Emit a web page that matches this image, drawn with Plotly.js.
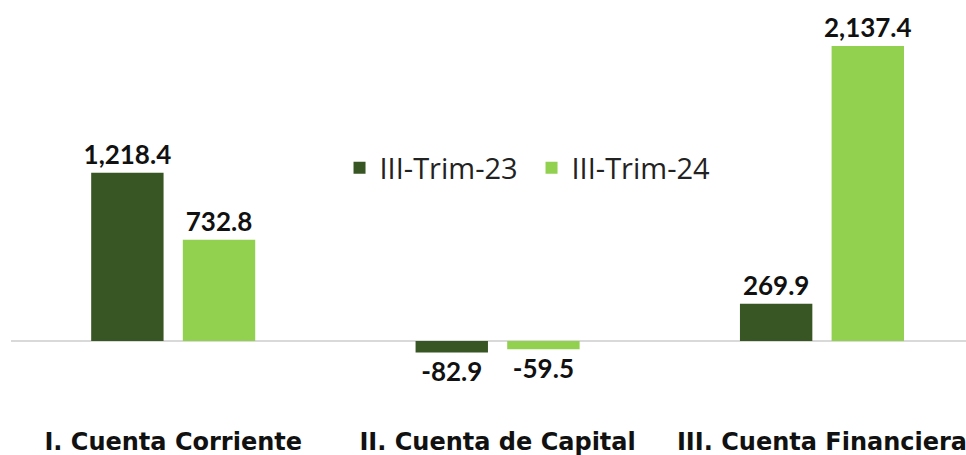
<!DOCTYPE html>
<html>
<head>
<meta charset="utf-8">
<script src="https://cdn.plot.ly/plotly-3.0.1.min.js"></script>
<style>html,body{margin:0;padding:0;background:#fff;}#chart{width:966px;height:455px;}</style>
</head>
<body>
<div id="chart"></div>
<script>
const categories = ["I. Cuenta Corriente", "II. Cuenta de Capital", "III. Cuenta Financiera"];
const seriesNames = ["III-Trim-23", "III-Trim-24"];
const values23 = [1218.4, -82.9, 269.9];
const values24 = [732.8, -59.5, 2137.4];
const colors = ["#375623", "#92D050"];

function fmt(v) {
  return v.toLocaleString("en-US", {minimumFractionDigits: 1, maximumFractionDigits: 1});
}

const labelFont = {family: "Lato, 'DejaVu Sans', sans-serif", size: 26, color: "#111111", weight: 700};

const traces = [values23, values24].map((vals, i) => ({
  type: "bar",
  name: seriesNames[i],
  x: categories,
  y: vals,
  marker: {color: colors[i]},
  text: vals.map(fmt),
  textposition: "outside",
  constraintext: "none",
  cliponaxis: false,
  textfont: labelFont,
  hoverinfo: "none"
}));

const layout = {
  width: 966,
  height: 455,
  margin: {l: 11, r: 0, t: 0, b: 30},
  paper_bgcolor: "#ffffff",
  plot_bgcolor: "#ffffff",
  barmode: "group",
  bargap: 0.435,
  bargroupgap: 0.21,
  showlegend: true,
  legend: {
    orientation: "h",
    x: 0.344, xanchor: "left",
    y: 0.605, yanchor: "middle",
    entrywidth: 147,
    font: {family: "'Open Sans', 'Noto Sans', sans-serif", size: 29, color: "#222222"},
    bgcolor: "rgba(0,0,0,0)"
  },
  xaxis: {
    range: [-0.5, 2.444],
    showgrid: false,
    showline: false,
    ticks: "",
    tickfont: {family: "'DejaVu Sans', sans-serif", size: 24, color: "#111111", weight: 700},
    fixedrange: true
  },
  yaxis: {
    range: [-609, 2471],
    showgrid: false,
    showticklabels: false,
    zeroline: true,
    zerolinecolor: "#d9d9d9",
    zerolinewidth: 1.5,
    fixedrange: true
  }
};

Plotly.newPlot("chart", traces, layout, {displayModeBar: false, staticPlot: true});
</script>
</body>
</html>
